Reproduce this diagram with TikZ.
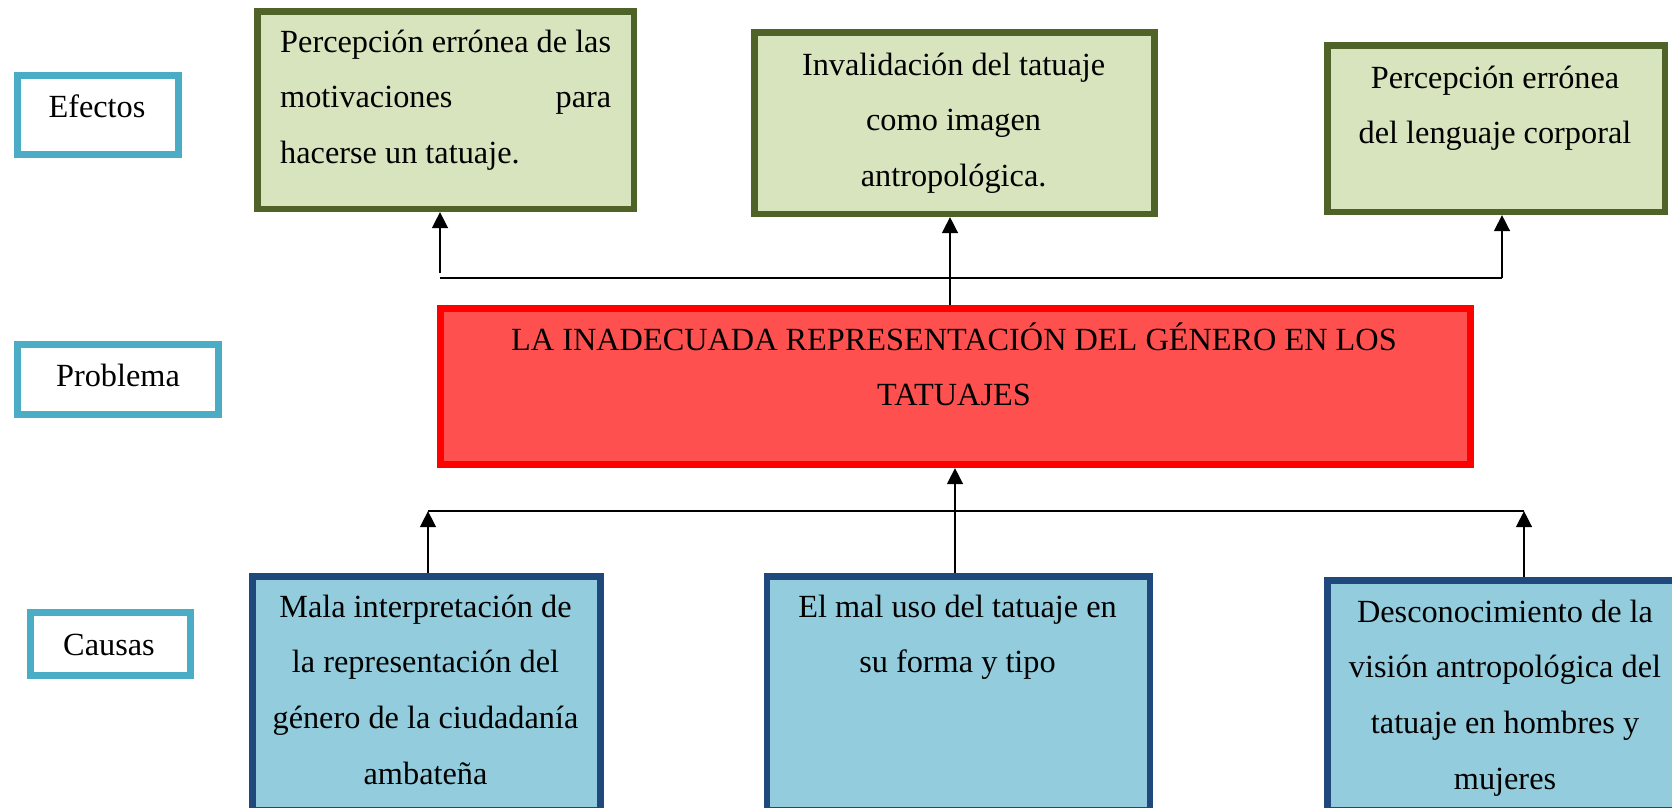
\documentclass[tikz,border=0pt]{standalone}
\usepackage{fontspec}
\setmainfont{Liberation Serif}
\usetikzlibrary{arrows.meta}
\definecolor{lblue}{HTML}{4BACC6}
\definecolor{gfill}{HTML}{D7E4BD}
\definecolor{gborder}{HTML}{4F6228}
\definecolor{rfill}{HTML}{FF5050}
\definecolor{rborder}{HTML}{FF0000}
\definecolor{bfill}{HTML}{93CDDD}
\definecolor{bborder}{HTML}{1F497D}
\begin{document}
\begin{tikzpicture}[x=1pt,y=-1pt,
  lbl/.style={draw=lblue,line width=7pt,fill=white,inner sep=0pt,anchor=north west},
  gbox/.style={draw=gborder,fill=gfill,line width=6.5pt,inner sep=0pt,anchor=north west},
  rbox/.style={draw=rborder,fill=rfill,line width=7pt,inner sep=0pt,anchor=north west},
  bbox/.style={draw=bborder,fill=bfill,line width=6.5pt,inner sep=0pt,anchor=north west},
  txt/.style={inner sep=0pt,font=\fontsize{32.3}{55.8}\selectfont},
  arr/.style={line width=2.7pt,-{Triangle[length=16pt,width=15.5pt]}},
  bus/.style={line width=2.2pt}]
\useasboundingbox (0,0) rectangle (1672,807);
\clip (0,0) rectangle (1672,807);

% side labels
\node[lbl,minimum width=161pt,minimum height=79pt] (L1) at (14,72) {};
\node[lbl,minimum width=201pt,minimum height=70pt] (L2) at (14,341) {};
\node[lbl,minimum width=160pt,minimum height=63pt] (L3) at (27,609) {};

% effects
\node[gbox,minimum width=376.5pt,minimum height=197.5pt] (e1) at (254,8) {};
\node[gbox,minimum width=400pt,minimum height=181.5pt] (e2) at (751,29) {};
\node[gbox,minimum width=337.5pt,minimum height=166.5pt] (e3) at (1324,42) {};

% problem
\node[rbox,minimum width=1030pt,minimum height=156pt] (p) at (437,305) {};

% causes
\node[bbox,minimum width=348pt,minimum height=233.5pt] (c1) at (249,573) {};
\node[bbox,minimum width=383pt,minimum height=233.5pt] (c2) at (763.5,573) {};
\node[bbox,minimum width=393.5pt,minimum height=229.5pt] (c3) at (1324,577) {};

% texts
\node[txt,anchor=base] (t1) at (97,117) {Efectos};
\node[txt,anchor=base] (t2) at (118,386) {Problema};
\node[txt,anchor=base] (t3) at (109,655) {Causas};

\node[txt,anchor=base west] (te1) at (280,52) {\parbox[t]{331pt}{\raggedright\mbox{Percepción errónea de las}\\ motivaciones\hfill para\\ hacerse un tatuaje.}};
\node[txt,anchor=base] (te2) at (953.6,75) {\parbox[t]{420pt}{\centering Invalidación del tatuaje\\ como imagen\\ antropológica.}};
\node[txt,anchor=base] (te3) at (1495,88) {\parbox[t]{360pt}{\centering Percepción errónea\\ del lenguaje corporal}};

\node[txt,anchor=base] (tp) at (954,350) {\parbox[t]{1000pt}{\centering LA INADECUADA REPRESENTACIÓN DEL GÉNERO EN LOS\\ TATUAJES}};

\node[txt,anchor=base] (tc1) at (425.5,617) {\parbox[t]{360pt}{\centering Mala interpretación de\\ la representación del\\ género de la ciudadanía\\ ambateña}};
\node[txt,anchor=base] (tc2) at (957.5,617) {\parbox[t]{380pt}{\centering El mal uso del tatuaje en\\ su forma y tipo}};
\node[txt,anchor=base] (tc3) at (1505,622) {\parbox[t]{380pt}{\centering Desconocimiento de la\\ visión antropológica del\\ tatuaje en hombres y\\ mujeres}};

% upper connectors
\coordinate (tbL) at (440,278);
\coordinate (tbR) at (1502,278);
\coordinate (a1) at (440,273);
\coordinate (mTop) at (950,0);
\draw[bus] (tbL) -- (tbR);
\draw[arr] (a1) -- (a1 |- e1.south);
\draw[arr] (p.north -| mTop) -- (e2.south -| mTop);
\draw[arr] (tbR) -- (tbR |- e3.south);

% lower connectors
\coordinate (bbL) at (428,511);
\coordinate (bbR) at (1524,511);
\coordinate (mBot) at (955,0);
\draw[bus] (bbL) -- (bbR);
\draw[arr] (c1.north -| bbL) -- (bbL);
\draw[arr] (c2.north -| mBot) -- (p.south -| mBot);
\draw[arr] (c3.north -| bbR) -- (bbR);
\end{tikzpicture}
\end{document}
